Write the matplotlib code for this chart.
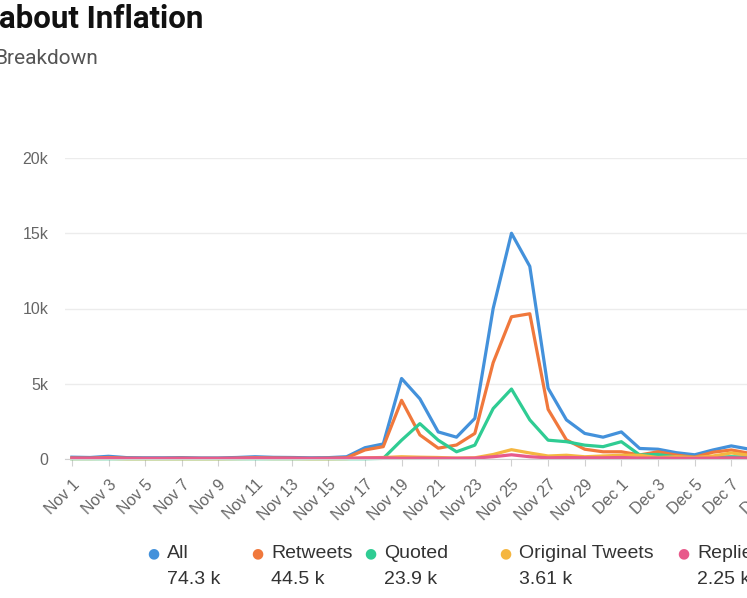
import matplotlib.pyplot as plt
import matplotlib.dates as mdates
import pandas as pd

# daily counts, Nov 1 .. Dec 9
days = pd.date_range("2022-11-01", "2022-12-09", freq="D")

all_tweets = [120, 100, 180, 90, 80, 80, 90, 70, 70, 100, 150, 110, 100, 80, 90, 150,
              750, 1000, 5350, 4000, 1800, 1450, 2700, 10000, 15000, 12800, 4700, 2600,
              1700, 1450, 1800, 700, 650, 420, 280, 600, 870, 650, 500]
retweets = [60, 50, 100, 50, 40, 40, 50, 40, 40, 50, 80, 60, 50, 40, 50, 80,
            600, 820, 3900, 1600, 720, 930, 1700, 6400, 9450, 9650, 3300, 1270,
            650, 480, 480, 270, 480, 260, 120, 450, 600, 380, 300]
quoted = [20, 20, 20, 20, 20, 20, 20, 20, 20, 20, 20, 20, 20, 20, 20, 20,
          20, 40, 1250, 2350, 1250, 480, 920, 3350, 4650, 2600, 1250, 1150,
          920, 820, 1150, 270, 300, 130, 100, 120, 150, 130, 100]
original = [30, 30, 40, 20, 20, 20, 20, 20, 20, 30, 40, 30, 30, 20, 20, 30,
            80, 100, 150, 120, 100, 60, 80, 300, 620, 400, 200, 250,
            150, 200, 250, 250, 100, 150, 100, 200, 400, 250, 200]
replies = [50, 50, 60, 40, 40, 40, 40, 40, 40, 50, 60, 50, 50, 40, 40, 50,
           70, 80, 50, 60, 50, 50, 60, 150, 280, 150, 80, 100,
           80, 80, 100, 60, 60, 50, 50, 60, 80, 60, 50]

names = ["All", "Retweets", "Quoted", "Original Tweets", "Replies"]
totals = ["74.3 k", "44.5 k", "23.9 k", "3.61 k", "2.25 k"]
colors = ["#4391db", "#f0783c", "#2fcc93", "#f5b640", "#e85a8b"]
series = [all_tweets, retweets, quoted, original, replies]

fig = plt.figure(figsize=(7.47, 5.98), dpi=100)
# plot area runs past the right edge, like the cropped screenshot
ax = fig.add_axes([65 / 747, 139 / 598, 740 / 747, 301 / 598])

for vals, c in zip(series, colors):
    ax.plot(days, vals, color=c, lw=2.3, clip_on=False, solid_joinstyle="round")

x0 = days[0] - pd.Timedelta(hours=9)
ax.set_xlim(x0, x0 + pd.Timedelta(days=40.4))
ax.set_ylim(0, 20000)
ax.set_yticks([0, 5000, 10000, 15000, 20000])
ax.set_yticklabels(["0", "5k", "10k", "15k", "20k"])
ax.set_xticks(days[::2])
ax.set_xticklabels([d.strftime("%b ") + str(d.day) for d in days[::2]],
                   rotation=45, ha="right", rotation_mode="anchor")

ax.grid(axis="y", color="#ececec", lw=1)
ax.set_axisbelow(True)
for s in ["top", "right", "left"]:
    ax.spines[s].set_visible(False)
ax.spines["bottom"].set_color("#d0d0d0")
ax.tick_params(axis="y", length=0, pad=12, labelsize=11.5, labelcolor="#666666")
ax.tick_params(axis="x", length=5, color="#d0d0d0", pad=8, labelsize=11.5,
               labelcolor="#666666")
for lab in ax.get_xticklabels() + ax.get_yticklabels():
    lab.set_fontfamily("Liberation Sans")

fig.text(-0.002, 0.968, "about Inflation", fontsize=22.5, fontweight="bold",
         family="Roboto", color="#111111", va="center", ha="left")
fig.text(-0.008, 0.902, "Breakdown", fontsize=15, family="Roboto",
         color="#555555", va="center", ha="left")

# legend with totals
leg_x = [153, 257, 370, 505, 683]
for x, n, t, c in zip(leg_x, names, totals, colors):
    fig.text(x / 747, 1 - 553 / 598, "\u25cf", color=c, fontsize=10,
             ha="center", va="center", family="DejaVu Sans")
    fig.text((x + 14) / 747, 1 - 553 / 598, n, color="#333333", fontsize=14,
             ha="left", va="center", family="Liberation Sans")
    fig.text((x + 14) / 747, 1 - 579 / 598, t, color="#333333", fontsize=14,
             ha="left", va="center", family="Liberation Sans")

fig.savefig("out.png", dpi=100)
